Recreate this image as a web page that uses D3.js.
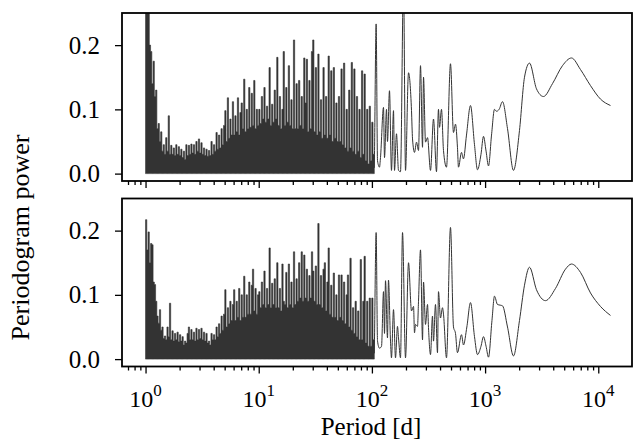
<!DOCTYPE html>
<html><head><meta charset="utf-8">
<script src="https://cdn.jsdelivr.net/npm/d3@7"></script>
<style>
body{margin:0;background:#fff}
svg{display:block}
text{font-family:"Liberation Serif","Times New Roman",serif;fill:#000}
</style>
</head><body>
<svg id="chart" width="633" height="441"></svg>
<script>
// ---------------- data ----------------
// Dense part of each periodogram: local peak powers, evenly spaced in log(period)
// between consecutive bounds of denseBounds (1 d -> 10 d, 10 d -> 105 d).
const denseBounds = [1, 10, 105];
const troughPower = 0;

const topDenseA = [0.36,0.26,0.34,0.2,0.19,0.14,0.175,0.12,0.13,0.07,
 0.078,0.05,0.065,0.035,0.045,0.03,0.056,0.035,0.09,0.03,
 0.044,0.03,0.04,0.028,0.045,0.03,0.042,0.028,0.038,0.025,
 0.035,0.022,0.045,0.028,0.044,0.03,0.046,0.032,0.045,0.03,
 0.05,0.035,0.054,0.032,0.048,0.03,0.04,0.028,0.038,0.027,
 0.036,0.028,0.05,0.03,0.045,0.035,0.064,0.038,0.06,0.04,
 0.07,0.045,0.075,0.098,0.05,0.118,0.055,0.085,0.06,0.112,
 0.06,0.09,0.065,0.118,0.06,0.095,0.11,0.07,0.147,0.065,
 0.1,0.07,0.134,0.072,0.125,0.075,0.145,0.07,0.1,0.075];
const topDenseB = [0.1,0.078,0.12,0.085,0.134,0.08,0.105,0.085,0.165,0.075,
 0.108,0.08,0.13,0.085,0.181,0.075,0.12,0.07,0.1,0.19,
 0.075,0.134,0.08,0.168,0.075,0.115,0.07,0.208,0.07,0.14,
 0.07,0.145,0.075,0.12,0.07,0.18,0.11,0.178,0.065,0.145,
 0.07,0.19,0.208,0.065,0.165,0.06,0.186,0.065,0.115,0.055,
 0.165,0.06,0.12,0.055,0.183,0.06,0.16,0.05,0.165,0.055,
 0.11,0.05,0.12,0.05,0.163,0.045,0.172,0.04,0.1,0.035,
 0.13,0.04,0.173,0.035,0.163,0.03,0.12,0.035,0.1,0.025,
 0.16,0.03,0.155,0.02,0.1,0.015,0.105,0.02,0.08,0.03];
const topResolvedPeriod = [105.4,109,112.1,116.7,119.1,126.6,129.2,134.6,137.3,143,
 148.9,155.2,158.4,164.9,171.8,178.9,190.2,198.1,210.6,223.8,
 228.5,237.9,247.8,258.1,268.8,280,285.8,297.6,310,329.4,
 350.1,372.1,387.5,395.5,411.9,429,456,494.6,525.8,547.7,
 570,582,619,644,685,743,806,857,920,968,
 1020,1072,1140,1211,1261,1330,1425,1578,1782,2013,
 2229,2468,2845,3281,3939,4828,5798,6964,8535,10457,12818];
const topResolvedPower = [0.03,0.233,0.02,0.01,0.025,0.103,0.025,0.1,0.05,0.129,
 0.005,0.098,0.005,0.062,0.005,0.003,0.3,0.005,0.157,0.098,
 0.054,0.033,0.049,0.036,0.168,0.041,0.15,0.049,0.056,0.005,
 0.085,0.003,0.1,0.072,0.1,0.036,0.01,0.171,0.064,0.077,
 0.041,0.01,0.033,0.023,0.06,0.106,0.045,0.006,0.03,0.058,
 0.035,0.012,0.06,0.1,0.097,0.1,0.112,0.07,0.005,0.067,
 0.15,0.172,0.132,0.12,0.14,0.168,0.18,0.162,0.137,0.116,0.106];

const botDenseA = [0.217,0.17,0.198,0.15,0.18,0.178,0.12,0.116,0.09,0.067,
 0.056,0.077,0.045,0.05,0.032,0.036,0.03,0.05,0.035,0.087,
 0.03,0.044,0.028,0.04,0.03,0.042,0.027,0.038,0.028,0.035,
 0.022,0.028,0.025,0.04,0.05,0.03,0.046,0.03,0.042,0.028,
 0.048,0.03,0.046,0.032,0.048,0.03,0.042,0.028,0.04,0.025,
 0.028,0.022,0.04,0.03,0.038,0.03,0.05,0.035,0.055,0.04,
 0.067,0.045,0.07,0.108,0.05,0.08,0.055,0.09,0.06,0.085,
 0.108,0.06,0.09,0.065,0.11,0.06,0.1,0.065,0.129,0.065,
 0.1,0.07,0.12,0.07,0.115,0.14,0.075,0.11,0.07,0.1];
const botDenseB = [0.105,0.08,0.12,0.085,0.137,0.08,0.11,0.085,0.173,0.08,
 0.118,0.085,0.125,0.08,0.15,0.08,0.11,0.075,0.148,0.09,
 0.085,0.135,0.08,0.148,0.085,0.12,0.08,0.167,0.085,0.125,
 0.09,0.15,0.095,0.167,0.09,0.162,0.095,0.14,0.09,0.13,
 0.095,0.167,0.137,0.09,0.145,0.085,0.211,0.085,0.13,0.08,
 0.14,0.15,0.075,0.12,0.173,0.07,0.115,0.065,0.134,0.065,
 0.1,0.06,0.131,0.065,0.131,0.06,0.12,0.055,0.1,0.131,
 0.05,0.157,0.045,0.08,0.04,0.09,0.035,0.075,0.03,0.155,
 0.03,0.09,0.16,0.025,0.09,0.02,0.095,0.02,0.095,0.03];
const botResolvedPeriod = [105.4,109,112.1,116.7,121.6,126.6,129.2,131.9,137.3,140.1,
 146,148.9,155.2,161.6,168.3,171.8,178.9,186.4,198.1,210.6,
 223.8,233.2,237.9,242.8,252.9,258.1,268.8,280,285.8,297.6,
 310,316.2,329.4,343,350.1,364.6,379.7,387.5,403.6,420.4,
 429,456,494.6,525.8,547.7,570,619,644,690,743,
 806,857,920,968,1020,1072,1150,1211,1287,1360,
 1425,1578,1782,2013,2229,2468,2845,3417,4188,5132,
 5798,6964,8535,10457,12818];
const botResolvedPower = [0.03,0.197,0.028,0.017,0.02,0.105,0.04,0.122,0.033,0.123,
 0.028,0.002,0.077,0.002,0.051,0.033,0.002,0.197,0.002,0.15,
 0.075,0.082,0.041,0.054,0.051,0.09,0.17,0.03,0.12,0.054,
 0.085,0.049,0.007,0.067,0.028,0.085,0.01,0.105,0.064,0.08,
 0.07,0.002,0.205,0.05,0.04,0.01,0.038,0.022,0.05,0.088,
 0.035,0.007,0.02,0.035,0.02,0.003,0.06,0.098,0.085,0.084,
 0.083,0.05,0.005,0.06,0.115,0.143,0.108,0.091,0.11,0.14,
 0.148,0.135,0.103,0.082,0.068];

const yTicks = [0, 0.1, 0.2];
const yTickLabels = ["0.0", "0.1", "0.2"];
const xMajorTicks = [1, 10, 100, 1000, 10000];
const xTickExponents = ["0", "1", "2", "3", "4"];
const xLabel = "Period [d]";
const yLabel = "Periodogram power";

// ---------------- layout ----------------
const svg = d3.select("#chart");
const L = 122, R = 632;
const panels = [
  {top: 13, dense: [topDenseA, topDenseB], rp: topResolvedPeriod, rv: topResolvedPower, labels: false},
  {top: 198.5, dense: [botDenseA, botDenseB], rp: botResolvedPeriod, rv: botResolvedPower, labels: true}
];
const H = 168;
const x = d3.scaleLog().domain([Math.pow(10, -0.208), Math.pow(10, 4.298)]).range([L, R]);
const minorTicks = x.ticks().filter(t => !xMajorTicks.includes(t));
const lineColor = "#333333";

panels.forEach((p, k) => {
  const y = d3.scaleLinear().domain([-0.0115, 0.25]).range([p.top + H, p.top]);
  const g = svg.append("g");
  const cid = "clip" + k;
  svg.append("defs").append("clipPath").attr("id", cid)
    .append("rect").attr("x", L).attr("y", p.top).attr("width", R - L).attr("height", H);

  // dense part: unresolved oscillations fill each column up to its peak power
  const pts = [];
  p.dense.forEach((vals, s) => {
    const a = Math.log10(denseBounds[s]), b = Math.log10(denseBounds[s + 1]);
    const step = (b - a) / vals.length;
    vals.forEach((v, i) => pts.push([Math.pow(10, a + i * step), v]));
  });
  pts.push([denseBounds[denseBounds.length - 1], troughPower]);
  const n = Math.min(p.rp.length, p.rv.length);
  const res = d3.range(n).map(i => [p.rp[i], p.rv[i]]);

  const plot = g.append("g").attr("clip-path", `url(#${cid})`);
  const denseArea = d3.area().x(d => x(d[0])).y0(y(troughPower)).y1(d => y(d[1])).curve(d3.curveStepAfter);
  plot.append("path").attr("d", denseArea(pts)).attr("fill", lineColor)
    .attr("stroke", lineColor).attr("stroke-width", 0.6);
  const joint = [[denseBounds[denseBounds.length - 1], pts[pts.length - 2][1] * 0.3]].concat(res);
  const lineSmooth = d3.line().x(d => x(d[0])).y(d => y(d[1])).curve(d3.curveMonotoneX);
  plot.append("path").attr("d", lineSmooth(joint)).attr("fill", "none")
    .attr("stroke", lineColor).attr("stroke-width", 1.0);

  // x ticks
  const ax = g.append("g").attr("transform", `translate(0,${p.top + H})`);
  ax.call(d3.axisBottom(x).tickValues(xMajorTicks).tickSize(7).tickFormat(""));
  const axm = g.append("g").attr("transform", `translate(0,${p.top + H})`);
  axm.call(d3.axisBottom(x).tickValues(minorTicks).tickSize(4).tickFormat(""));
  [ax, axm].forEach(a => { a.select(".domain").remove(); a.selectAll("line").attr("stroke", "#000").attr("stroke-width", 1.3); });

  // y ticks
  const ay = g.append("g").attr("transform", `translate(${L},0)`);
  ay.call(d3.axisLeft(y).tickValues(yTicks).tickSize(7).tickFormat((d, i) => yTickLabels[i]).tickPadding(15));
  ay.select(".domain").remove();
  ay.selectAll("line").attr("stroke", "#000").attr("stroke-width", 1.3);
  ay.selectAll("text").attr("font-family", '"Liberation Serif", serif').attr("font-size", 25).attr("fill", "#000");

  // frame
  g.append("rect").attr("x", L).attr("y", p.top).attr("width", R - L).attr("height", H)
    .attr("fill", "none").attr("stroke", "#000").attr("stroke-width", 1.8);

  if (p.labels) {
    xMajorTicks.forEach((t, i) => {
      const tx = g.append("text").attr("x", x(t)).attr("y", 407).attr("text-anchor", "middle")
        .attr("font-size", 24);
      tx.append("tspan").text("10");
      tx.append("tspan").attr("dy", -11).attr("font-size", 17).text(xTickExponents[i]);
    });
  }
});

svg.append("text").attr("x", (L + R) / 2 - 6).attr("y", 435).attr("text-anchor", "middle")
  .attr("font-size", 25).text(xLabel);
svg.append("text").attr("transform", "translate(29,237.5) rotate(-90)").attr("text-anchor", "middle")
  .attr("font-size", 26).text(yLabel);
</script>
</body></html>
